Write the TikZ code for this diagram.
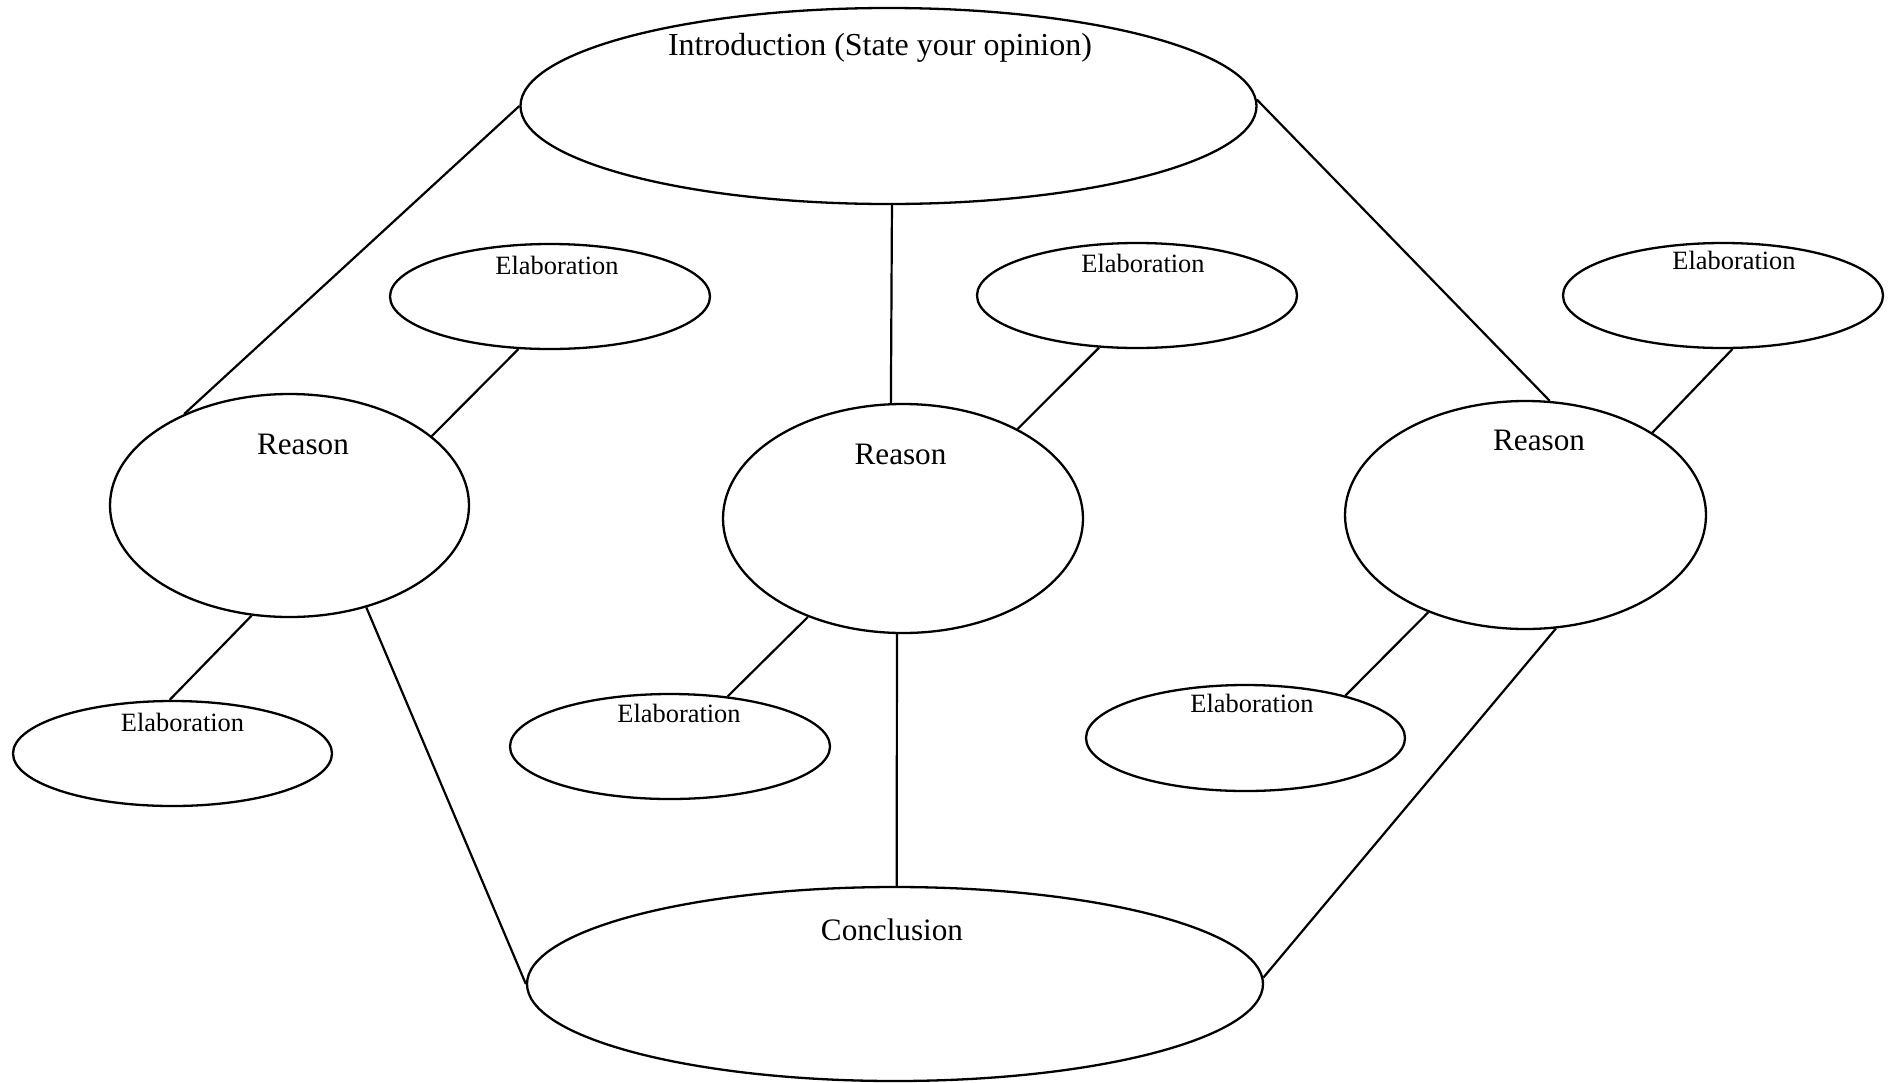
\documentclass[tikz,border=0pt]{standalone}
\usepackage{fontspec}
\setmainfont{Liberation Serif}
\usetikzlibrary{shapes.geometric}
\begin{document}
\begin{tikzpicture}[x=0.5pt,y=-0.5pt,
  oval/.style={draw, ellipse, inner sep=0pt, line width=1.15pt},
  link/.style={line width=1.1pt},
  bigtxt/.style={anchor=base, inner sep=0pt, font=\fontsize{15.6}{18}\selectfont},
  smalltxt/.style={anchor=base, inner sep=0pt, font=\fontsize{13.2}{15}\selectfont}]
\useasboundingbox (0,0) rectangle (1894,1082);
% ellipses
\node[oval, minimum width=368pt, minimum height=98pt] (intro) at (888.5,106) {};
\node[oval, minimum width=179.5pt, minimum height=111.5pt] (reasonL) at (289.5,505.5) {};
\node[oval, minimum width=180pt, minimum height=114.5pt] (reasonM) at (903,518.5) {};
\node[oval, minimum width=180.5pt, minimum height=114pt] (reasonR) at (1525.5,515) {};
\node[oval, minimum width=159.5pt, minimum height=52.5pt] (elabLL) at (172.5,753.5) {};
\node[oval, minimum width=160pt, minimum height=52.5pt] (elabML) at (670,746.5) {};
\node[oval, minimum width=159.5pt, minimum height=53pt] (elabRL) at (1245.5,738) {};
\node[oval, minimum width=160pt, minimum height=52.5pt] (elabUL) at (550,296.5) {};
\node[oval, minimum width=160pt, minimum height=52.5pt] (elabUM) at (1137,295.5) {};
\node[oval, minimum width=160pt, minimum height=52.5pt] (elabUR) at (1723,295.5) {};
\node[oval, minimum width=368pt, minimum height=97pt] (concl) at (895,984) {};
% texts
\node[bigtxt, font=\fontsize{16}{18}\selectfont] (tIntro) at (880,55) {Introduction (State your opinion)};
\node[bigtxt] (tConcl) at (892,940) {Conclusion};
\node[bigtxt] (tRL) at (303,454) {Reason};
\node[bigtxt] (tRM) at (900.5,464) {Reason};
\node[bigtxt] (tRR) at (1539,450) {Reason};
\node[smalltxt] (tLL) at (182.5,731) {Elaboration};
\node[smalltxt] (tML) at (679,722) {Elaboration};
\node[smalltxt] (tRLe) at (1252,712) {Elaboration};
\node[smalltxt] (tUL) at (557,274) {Elaboration};
\node[smalltxt] (tUM) at (1143,272) {Elaboration};
\node[smalltxt] (tUR) at (1734,269) {Elaboration};
% connectors
\draw[link] (intro.180) -- (reasonL.139);
\draw[link] (intro.-88) -- (reasonM.96);
\draw[link] (intro.1) -- (reasonR.78);
\draw[link] (elabUL.-121) -- (reasonL.26);
\draw[link] (elabUM.-126) -- (reasonM.38);
\draw[link] (elabUR.-80) -- (reasonR.33);
\draw[link] (reasonL.-109) -- (elabLL.93);
\draw[link] (reasonL.-53) -- (concl.180);
\draw[link] (reasonM.-134) -- (elabML.41);
\draw[link] (reasonM.-93) -- (concl.89);
\draw[link] (reasonR.-135) -- (elabRL.23);
\draw[link] (reasonR.-75) -- (concl.1);
\end{tikzpicture}
\end{document}
